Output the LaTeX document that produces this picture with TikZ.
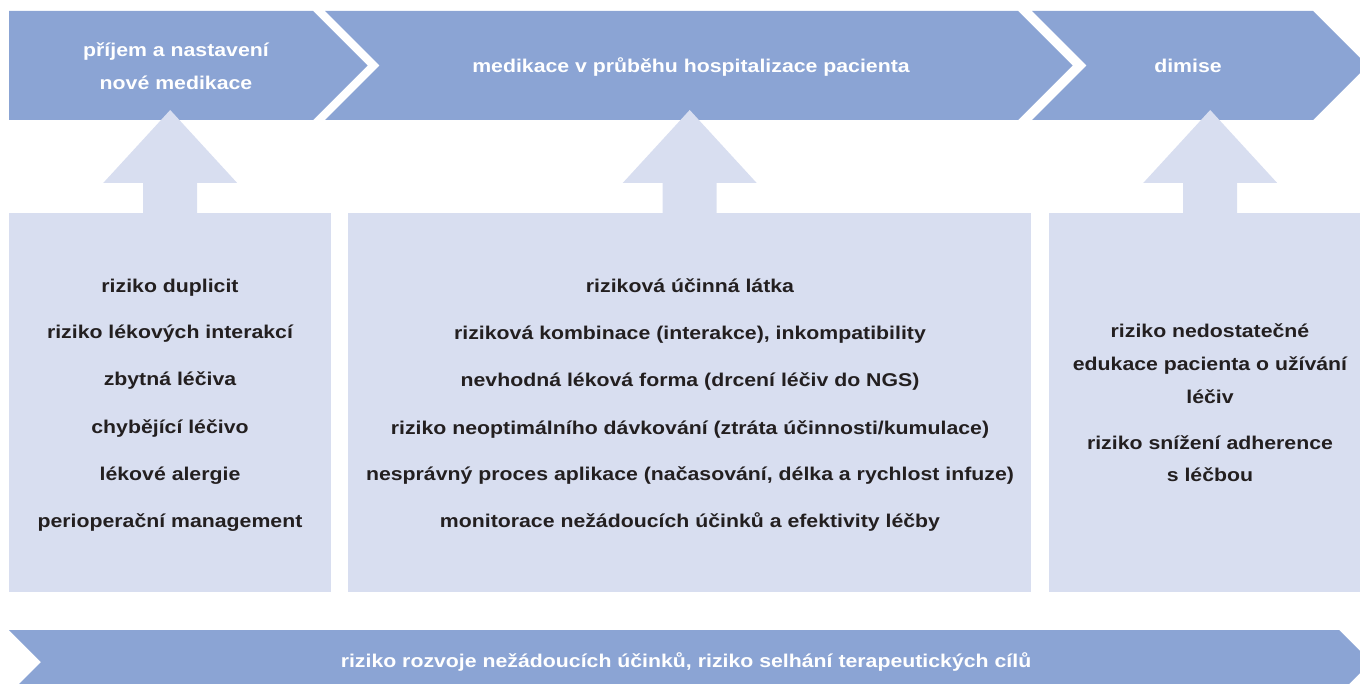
\documentclass[tikz,border=0pt]{standalone}
\usepackage{fontspec}
\setmainfont{Liberation Sans}[FakeStretch=1.15]
\usetikzlibrary{positioning,calc}
\definecolor{bandblue}{HTML}{8BA4D4}
\definecolor{boxblue}{HTML}{D8DEF0}
\definecolor{inktext}{HTML}{231F20}
\tikzstyle{phase} = [fill=bandblue]
\tikzstyle{riskbox} = [fill=boxblue,inner sep=0pt,minimum height=379pt,anchor=north west]
\tikzstyle{uparrow} = [fill=boxblue]
\tikzstyle{phasetext} = [text=white,anchor=base,inner sep=0pt,font=\bfseries\fontsize{18.5}{22}\selectfont]
\tikzstyle{risktext} = [text=inktext,anchor=base,inner sep=0pt,font=\bfseries\fontsize{18.5}{22}\selectfont]

\begin{document}
\begin{tikzpicture}[x=1pt,y=-1pt]
  \useasboundingbox (0,0) rectangle (1360,684);
  \clip (0,0) rectangle (1360,684);

  % phases of the hospital stay
  \fill[phase] (9,11) -- (313,11) -- (367.5,65.5) -- (313,120) -- (9,120) -- cycle;
  \fill[phase] (325,11) -- (1018,11) -- (1072.5,65.5) -- (1018,120) -- (325,120) -- (379.5,65.5) -- cycle;
  \fill[phase] (1032,11) -- (1313,11) -- (1367.5,65.5) -- (1313,120) -- (1032,120) -- (1086.5,65.5) -- cycle;
  \node[phasetext] (ph1a) at (176,57) {příjem a nastavení};
  \node[phasetext] (ph1b) at (176,90) {nové medikace};
  \node[phasetext] (ph2) at (691,73) {medikace v průběhu hospitalizace pacienta};
  \node[phasetext] (ph3) at (1188,73) {dimise};

  % risk boxes
  \node[riskbox,minimum width=322pt] (box1) at (9,213) {};
  \node[riskbox,minimum width=683pt] (box2) at (348,213) {};
  \node[riskbox,minimum width=322pt] (box3) at (1049,213) {};

  \foreach \b in {box1,box2,box3}
    \fill[uparrow] ($(\b.north)+(-27,0)$) -- ++(0,-30) -- ++(-40,0) -- ++(67,-73)
      -- ++(67,73) -- ++(-40,0) -- ++(0,30) -- cycle;

  \foreach \y/\txt [count=\i] in {293/{riziko duplicit}, 339/{riziko lékových interakcí},
      386/{zbytná léčiva}, 433/{chybějící léčivo}, 480/{lékové alergie},
      527/{perioperační management}}
    \node[risktext] (r1-\i) at (170,\y) {\txt};

  \foreach \y/\txt [count=\i] in {293/{riziková účinná látka},
      340/{riziková kombinace (interakce), inkompatibility},
      387/{nevhodná léková forma (drcení léčiv do NGS)},
      434/{riziko neoptimálního dávkování (ztráta účinnosti/kumulace)},
      480/{nesprávný proces aplikace (načasování, délka a rychlost infuze)},
      527/{monitorace nežádoucích účinků a efektivity léčby}}
    \node[risktext] (r2-\i) at (690,\y) {\txt};

  \foreach \y/\txt [count=\i] in {338/{riziko nedostatečné}, 371/{edukace pacienta o užívání},
      403/{léčiv}, 449/{riziko snížení adherence}, 481/{s léčbou}}
    \node[risktext] (r3-\i) at (1210,\y) {\txt};

  % overall risk
  \fill[phase] (9,630) -- (1339,630) -- (1371,662) -- (1339,694) -- (9,694) -- (41,662) -- cycle;
  \node[phasetext] (overall) at (686,667)
    {riziko rozvoje nežádoucích účinků, riziko selhání terapeutických cílů};
\end{tikzpicture}
\end{document}
